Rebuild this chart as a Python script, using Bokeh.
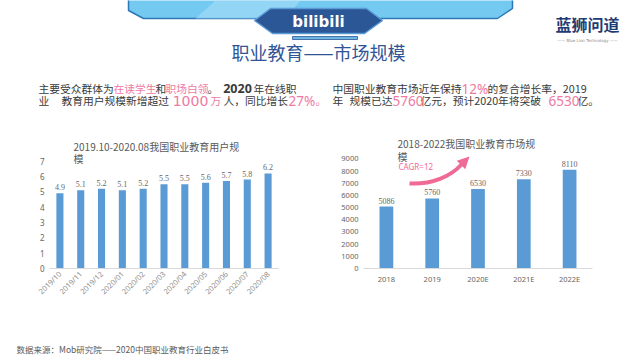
from bokeh.plotting import figure
from bokeh.layouts import column, row
from bokeh.models import (Range1d, FactorRange, FixedTicker, ColumnDataSource,
                          LabelSet, Arrow, NormalHead)
from bokeh.core.properties import value
from bokeh.embed import file_html
from bokeh.resources import INLINE

# ---------------- data ----------------
user_months = ["2019/10", "2019/11", "2019/12", "2020/01", "2020/02", "2020/03",
               "2020/04", "2020/05", "2020/06", "2020/07", "2020/08"]
user_scale = [4.9, 5.1, 5.2, 5.1, 5.2, 5.5, 5.5, 5.6, 5.7, 5.8, 6.2]
user_ticks = [0, 1, 2, 3, 4, 5, 6, 7]

market_years = ["2018", "2019", "2020E", "2021E", "2022E"]
market_size = [5086, 5760, 6530, 7330, 8110]
market_ticks = [0, 1000, 2000, 3000, 4000, 5000, 6000, 7000, 8000, 9000]

CJK = value("Noto Sans CJK SC")
DARK = "#3a3a3a"
PINK = "#ee7aa2"
BAR = "#5b9bd5"
GRAY = "#666666"


def canvas(w, h, x0, y0):
    f = figure(width=w, height=h, x_range=Range1d(x0, x0 + w),
               y_range=Range1d(y0 + h, y0), output_backend="svg",
               toolbar_location=None, x_axis_type=None, y_axis_type=None,
               min_border=0)
    f.min_border_left = f.min_border_right = f.min_border_top = f.min_border_bottom = 0
    f.grid.visible = False
    f.outline_line_color = None
    return f


# ---------------- header ----------------
hdr = canvas(640, 120, 0, 0)
hdr.patch([128, 512, 512, 497, 143, 128], [-2, -2, 8, 18, 18, 10],
          fill_color="#74c9f1", line_color="#2e78b8", line_width=1.5)
hdr.patch([215, 300, 285, 195], [0, 0, 18, 18], fill_color="#a6def8",
          fill_alpha=0.6, line_color=None)
hdr.patch([270, 366, 382, 364, 272, 254], [8, 8, 20, 33, 33, 20],
          fill_color="#2b5797", line_color="#5a9bd5", line_width=1.5)
hdr.quad(left=[292], right=[357], top=[36], bottom=[39],
         fill_color="#6db6e3", line_color="#2b5797", line_width=0.8)
hdr.text(x=[318], y=[21], text=["bilibili"], text_color="white",
         text_font=value("DejaVu Sans"), text_font_style="bold",
         text_font_size="15px", text_align="center", text_baseline="middle")
hdr.text(x=[318], y=[51], text=["职业教育——市场规模"], text_color="#2f5597",
         text_font=CJK, text_font_size="18px", text_align="center",
         text_baseline="middle")
hdr.text(x=[587], y=[23], text=["蓝狮问道"], text_color="#1f3b73",
         text_font=CJK, text_font_style="bold", text_font_size="16px",
         text_align="center", text_baseline="middle")
hdr.text(x=[587], y=[40], text=["—— Blue Lion Technology ——"],
         text_color="#8a8a8a", text_font=value("DejaVu Sans"),
         text_font_size="4px", text_align="center", text_baseline="middle")

dark_seg = dict(
    text=["主要受众群体为", "和", "。", "年在线职", "业", "教育用户规模新增超过", "人，同比增长",
          "中国职业教育市场近年保持", "的复合增长率，2019", "年", "规模已达",
          "亿元，预计2020年将突破", "亿。"],
    x=[38, 155, 207, 253, 38, 61, 223, 332, 487, 332, 349, 420, 577],
    y=[88, 88, 88, 88, 100, 100, 100, 88, 88, 100, 100, 100, 100])
bold_num = dict(text=["2020"], x=[237], y=[88])
pink_cjk = dict(text=["在读学生", "职场白领", "万", "。"],
                x=[113, 165, 210, 315], y=[88, 88, 100, 100])
pink_num = dict(text=["27%", "12%", "5760", "6530"],
                x=[288, 461, 392, 548], y=[100, 88, 100, 100])
pink_wide = dict(text=["1000"], x=[190], y=[100])
hdr.text(x="x", y="y", text="text", source=ColumnDataSource(dark_seg),
         text_color=DARK, text_font=CJK, text_font_size="10.75px",
         text_baseline="middle")
hdr.text(x="x", y="y", text="text", source=ColumnDataSource(bold_num),
         text_color=DARK, text_font=value("Noto Sans"), text_font_style="bold",
         text_font_size="12.5px", text_align="center", text_baseline="middle")
hdr.text(x="x", y="y", text="text", source=ColumnDataSource(pink_cjk),
         text_color=PINK, text_font=CJK, text_font_size="10.75px",
         text_baseline="middle")
hdr.text(x="x", y="y", text="text", source=ColumnDataSource(pink_num),
         text_color=PINK, text_font=value("Noto Sans"), text_font_size="13.5px",
         text_baseline="middle")
hdr.text(x="x", y="y", text="text", source=ColumnDataSource(pink_wide),
         text_color=PINK, text_font=value("DejaVu Sans"), text_font_size="14px",
         text_align="center", text_baseline="middle")


def style_axes(p, ticks, tick_size):
    p.xgrid.visible = False
    p.ygrid.visible = False
    p.outline_line_color = None
    p.yaxis.ticker = FixedTicker(ticks=ticks)
    p.yaxis.axis_line_color = None
    p.yaxis.major_tick_line_color = None
    p.yaxis.minor_tick_line_color = None
    p.yaxis.major_tick_out = 0
    p.yaxis.minor_tick_out = 0
    p.yaxis.major_label_standoff = 5
    p.yaxis.major_label_text_font_size = tick_size
    p.yaxis.major_label_text_color = GRAY
    p.yaxis.major_label_text_font = "Noto Sans"
    p.xaxis.axis_line_color = "#d9d9d9"
    p.xaxis.major_tick_line_color = None
    p.xaxis.minor_tick_line_color = None
    p.xaxis.major_tick_out = 0
    p.xaxis.major_label_text_font = "Noto Sans"
    p.xaxis.major_label_text_color = GRAY


# ---------------- left chart ----------------
pl = figure(width=328, height=210,
            x_range=FactorRange(factors=user_months, range_padding=0),
            y_range=Range1d(0, 9.0), output_backend="svg",
            toolbar_location=None, min_border_left=49, min_border_right=50,
            min_border_top=10, min_border_bottom=60)
style_axes(pl, user_ticks, "8px")
pl.xaxis.major_label_orientation = 0.785
pl.xaxis.major_label_text_font_size = "7.5px"
pl.xaxis.major_label_text_color = "#8c8c8c"
pl.xaxis.major_label_standoff = 4

src_l = ColumnDataSource(dict(x=user_months, top=user_scale,
                              lab=[f"{v:.1f}" for v in user_scale]))
pl.vbar(x="x", top="top", width=0.34, source=src_l, fill_color=BAR,
        line_color=None)
pl.add_layout(LabelSet(x="x", y="top", text="lab", source=src_l, y_offset=3,
                       text_align="center", text_baseline="bottom",
                       text_font_size="8px", text_color=GRAY,
                       text_font="Noto Sans"))


def lx(px):  # pixel -> synthetic x (left chart), for annotation placement
    return (px - 49) / (229 / 11)


def ly(py):
    return (270 - py) / 140 * 9.0


pl.text(x=[lx(73), lx(73)], y=[ly(146), ly(158)],
        text=["2019.10-2020.08我国职业教育用户规", "模"], text_font=CJK,
        text_font_size="10px", text_color="#595959", text_baseline="middle")

# ---------------- right chart ----------------
pr = figure(width=312, height=210,
            x_range=FactorRange(factors=market_years, range_padding=0),
            y_range=Range1d(0, 11340), output_backend="svg",
            toolbar_location=None, min_border_left=35, min_border_right=48,
            min_border_top=10, min_border_bottom=62)
style_axes(pr, market_ticks, "7.5px")
pr.xaxis.major_label_text_font_size = "7.5px"
pr.xaxis.major_label_standoff = 5

src_r = ColumnDataSource(dict(x=market_years, top=market_size,
                              lab=[str(v) for v in market_size]))
pr.vbar(x="x", top="top", width=0.3, source=src_r, fill_color=BAR,
        line_color=None)
pr.add_layout(LabelSet(x="x", y="top", text="lab", source=src_r, y_offset=3,
                       text_align="center", text_baseline="bottom",
                       text_font_size="8px", text_color=GRAY,
                       text_font="Noto Sans"))


def rx(px):
    return (px - 363) / (229 / 5)


def ry(py):
    return (268 - py) / 138 * 11340


pr.text(x=[rx(397), rx(397)], y=[ry(143), ry(156)],
        text=["2018-2022我国职业教育市场规", "模"], text_font=CJK,
        text_font_size="10px", text_color="#595959", text_baseline="middle")
pr.text(x=[rx(398)], y=[ry(166)], text=["CAGR=12"], text_font=value("Noto Sans"),
        text_font_size="8px", text_color="#f06a96", text_baseline="middle")
pr.bezier(x0=[rx(409)], y0=[ry(183)], x1=[rx(461)], y1=[ry(164)],
          cx0=[rx(432)], cy0=[ry(184)], cx1=[rx(450)], cy1=[ry(176)],
          line_color="#f06a96", line_width=4)
pr.add_layout(Arrow(end=NormalHead(size=12, fill_color="#f06a96", line_color=None),
                    x_start=rx(457), y_start=ry(168), x_end=rx(469), y_end=ry(156),
                    line_alpha=0))

# ---------------- footer ----------------
ftr = canvas(640, 30, 0, 330)
ftr.text(x=[16], y=[348], text=["数据来源：Mob研究院——2020中国职业教育行业白皮书"],
         text_font=CJK, text_font_size="8.5px", text_color="#595959",
         text_baseline="middle")

layout = column(hdr, row(pl, pr), ftr)
open("out.html", "w").write(file_html(layout, INLINE))
